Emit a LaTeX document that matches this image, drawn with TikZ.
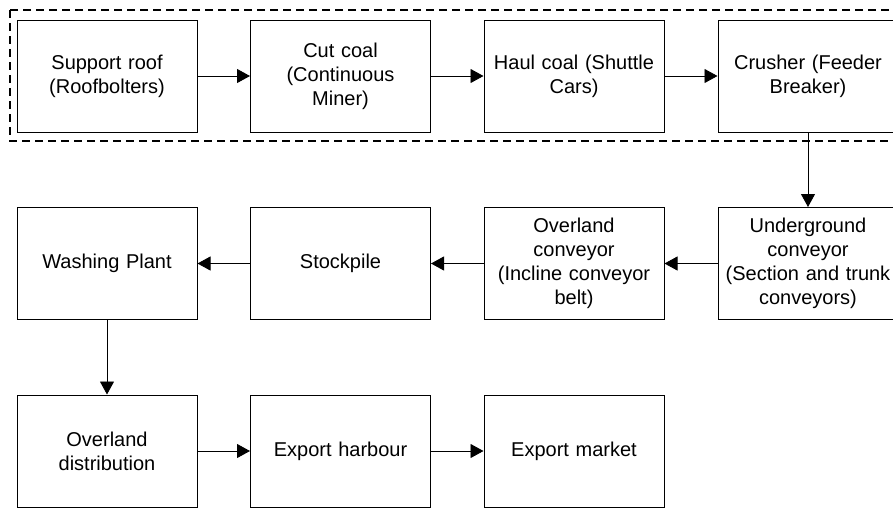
\documentclass[tikz,border=0pt]{standalone}
\usepackage{fontspec}
\setmainfont{Liberation Sans}
\usetikzlibrary{arrows.meta}
\begin{document}
\begin{tikzpicture}[x=1pt,y=-1pt,
  stage/.style={draw, line width=1pt, minimum width=180pt, minimum height=112pt,
    inner sep=0pt, align=center, text width=176pt,
    font=\fontsize{20}{24}\selectfont},
  flow/.style={line width=0.9pt, -{Triangle[length=13pt,width=14pt]}},
  group/.style={line width=1.5pt, dash pattern=on 8pt off 5pt}]
\useasboundingbox (0,0) rectangle (893,507);
\clip (0,0) rectangle (893,507);
% underground section outline
\draw[group] (10,10) rectangle (910,141);
% row 1: face operations
\node[stage] (roof)    at (107,76)   {Support roof\\(Roofbolters)};
\node[stage] (cut)     at (340.5,76) {Cut coal\\(Continuous\\Miner)};
\node[stage] (haul)    at (574,76)   {Haul coal (Shuttle\\Cars)};
\node[stage] (crush)   at (808,76)   {Crusher (Feeder\\Breaker)};
% row 2: conveying and processing
\node[stage] (ugconv)  at (808,263.5)   {Underground\\conveyor\\(Section and trunk\\conveyors)};
\node[stage] (olconv)  at (574,263.5)   {Overland\\conveyor\\(Incline conveyor\\belt)};
\node[stage] (stock)   at (340.5,263.5) {Stockpile};
\node[stage] (wash)    at (107,263.5)   {Washing Plant};
% row 3: distribution
\node[stage] (dist)    at (107,451)   {Overland\\distribution};
\node[stage] (harbour) at (340.5,451) {Export harbour};
\node[stage] (market)  at (574,451)   {Export market};
% connectors
\draw[flow] (roof) -- (cut);
\draw[flow] (cut) -- (haul);
\draw[flow] (haul) -- (crush);
\draw[flow] (crush) -- (ugconv);
\draw[flow] (ugconv) -- (olconv);
\draw[flow] (olconv) -- (stock);
\draw[flow] (stock) -- (wash);
\draw[flow] (wash) -- (dist);
\draw[flow] (dist) -- (harbour);
\draw[flow] (harbour) -- (market);
\end{tikzpicture}
\end{document}
